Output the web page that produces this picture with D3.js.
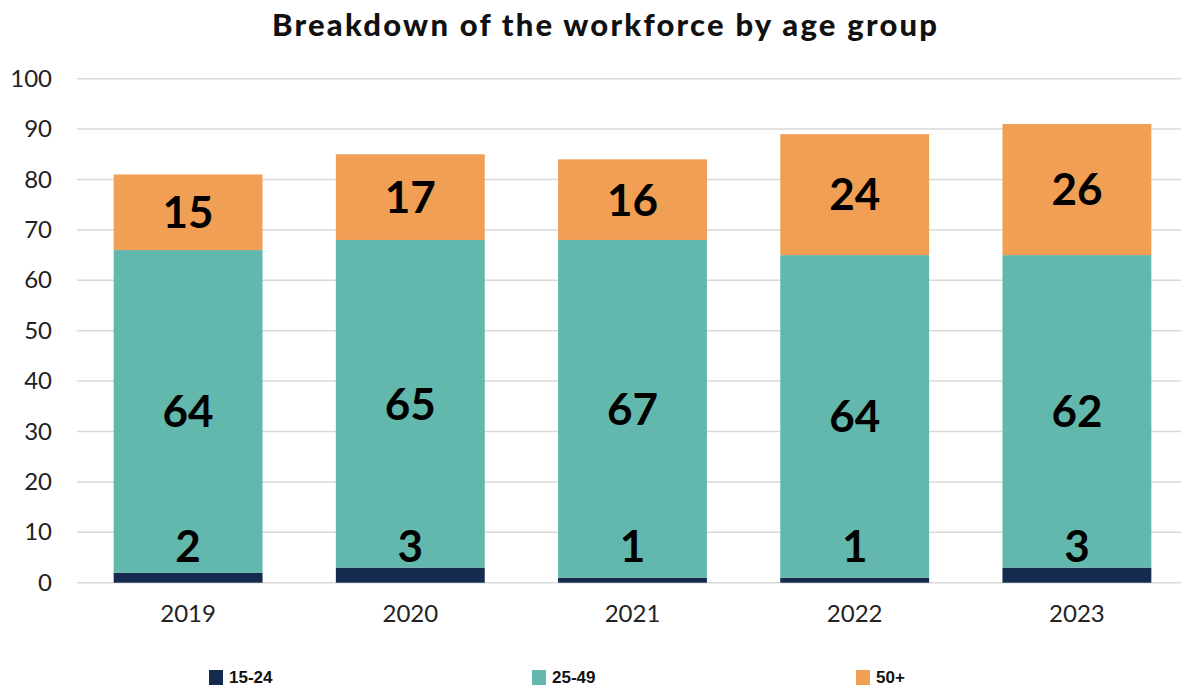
<!DOCTYPE html>
<html>
<head>
<meta charset="utf-8">
<script src="https://cdn.jsdelivr.net/npm/d3@7"></script>
<style>
  html, body { margin: 0; padding: 0; background: #ffffff; }
  svg { display: block; }
</style>
</head>
<body>
<svg id="chart" width="1181" height="686"></svg>
<script>
// Workforce by age group, stacked per year
const years = ["2019", "2020", "2021", "2022", "2023"];
const age15to24 = [2, 3, 1, 1, 3];
const age25to49 = [64, 65, 67, 64, 62];
const age50plus = [15, 17, 16, 24, 26];
const seriesNames = ["15-24", "25-49", "50+"];
const yTicks = [0, 10, 20, 30, 40, 50, 60, 70, 80, 90, 100];

const colors = { "15-24": "#142a4f", "25-49": "#63b8ad", "50+": "#f09f55" };

const rows = years.map((yr, i) => ({
  year: yr,
  "15-24": age15to24[i],
  "25-49": age25to49[i],
  "50+": age50plus[i]
}));

const svg = d3.select("#chart");
const W = 1181, H = 686;
const plotLeft = 77, plotRight = 1188, plotTop = 78.7, plotBottom = 582.7;

const x = d3.scaleBand()
  .domain(years)
  .range([plotLeft, plotRight])
  .paddingInner(0.33)
  .paddingOuter(0.165);

const y = d3.scaleLinear().domain([0, 100]).range([plotBottom, plotTop]);

// Title
svg.append("text")
  .attr("x", 604.5)
  .attr("y", 36)
  .attr("text-anchor", "middle")
  .attr("font-family", "Lato, 'DejaVu Sans', sans-serif")
  .attr("font-weight", 900)
  .attr("font-size", 31)
  .attr("fill", "#111")
  .attr("textLength", 665)
  .attr("lengthAdjust", "spacing")
  .text("Breakdown of the workforce by age group");

// Gridlines
svg.append("g")
  .selectAll("line")
  .data(yTicks)
  .join("line")
  .attr("x1", plotLeft)
  .attr("x2", W)
  .attr("y1", d => y(d))
  .attr("y2", d => y(d))
  .attr("stroke", "#d9d9d9")
  .attr("stroke-width", 1.5);

// Y axis labels
const yAxis = d3.axisLeft(y).tickValues(yTicks).tickSize(0).tickPadding(0);
const yg = svg.append("g").attr("transform", `translate(52,0)`).call(yAxis);
yg.select(".domain").remove();
yg.selectAll("text")
  .attr("font-family", "Lato, 'DejaVu Sans', sans-serif")
  .attr("font-size", 24)
  .attr("fill", "#222");

// X axis labels
const xAxis = d3.axisBottom(x).tickSize(0).tickPadding(0);
const xg = svg.append("g").attr("transform", `translate(0,${plotBottom + 22})`).call(xAxis);
xg.select(".domain").remove();
xg.selectAll("text")
  .attr("font-family", "Lato, 'DejaVu Sans', sans-serif")
  .attr("font-size", 24)
  .attr("fill", "#222");

// Stacked bars
const stack = d3.stack().keys(seriesNames);
const layers = stack(rows);

const groups = svg.append("g")
  .selectAll("g")
  .data(layers)
  .join("g")
  .attr("fill", d => colors[d.key]);

groups.selectAll("rect")
  .data(d => d)
  .join("rect")
  .attr("x", d => x(d.data.year))
  .attr("width", x.bandwidth())
  .attr("y", d => y(d[1]))
  .attr("height", d => y(d[0]) - y(d[1]));

// Value labels
const labelFont = "Lato, 'DejaVu Sans', sans-serif";
layers.forEach(layer => {
  svg.append("g")
    .selectAll("text")
    .data(layer)
    .join("text")
    .attr("x", d => x(d.data.year) + x.bandwidth() / 2)
    .attr("y", d => layer.key === "15-24"
      ? y(0) - 21
      : y((d[0] + d[1]) / 2))
    .attr("dy", layer.key === "15-24" ? 0 : "0.36em")
    .attr("text-anchor", "middle")
    .attr("font-family", labelFont)
    .attr("font-weight", 700)
    .attr("font-size", 44)
    .attr("fill", "#000")
    .text(d => d[1] - d[0]);
});

// Legend
const legendX = [209, 532, 856];
const legend = svg.append("g")
  .selectAll("g")
  .data(seriesNames)
  .join("g")
  .attr("transform", (d, i) => `translate(${legendX[i]},0)`);

legend.append("rect")
  .attr("x", 0)
  .attr("y", 670)
  .attr("width", 14)
  .attr("height", 15)
  .attr("fill", d => colors[d]);

legend.append("text")
  .attr("x", 20)
  .attr("y", 683)
  .attr("font-family", "'Liberation Sans', Arial, sans-serif")
  .attr("font-weight", 700)
  .attr("font-size", 17)
  .attr("fill", "#111")
  .text(d => d);
</script>
</body>
</html>
